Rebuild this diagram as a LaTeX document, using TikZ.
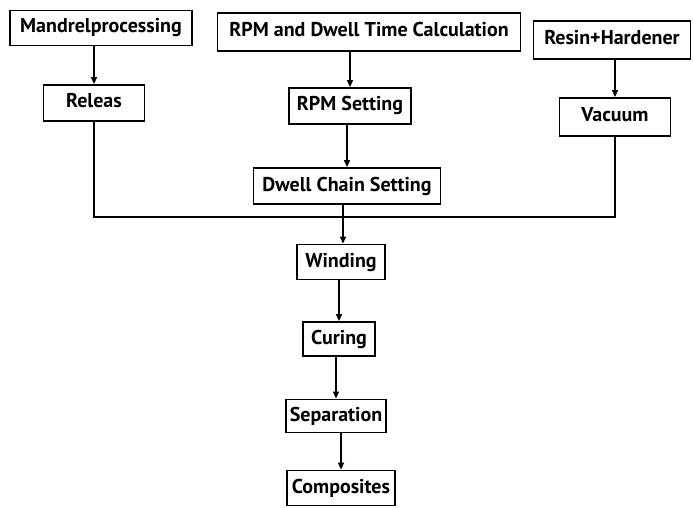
\documentclass[tikz,border=0pt]{standalone}
\usepackage{fontspec}
\setmainfont{PT Sans}
\usetikzlibrary{arrows.meta}
\begin{document}
\begin{tikzpicture}[x=1pt,y=-1pt,
  box/.style={draw,line width=1.8pt,inner sep=0pt,font=\bfseries\fontsize{20}{20}\selectfont,text height=14pt,text depth=4pt},
  conn/.style={line width=1.3pt},
  arr/.style={conn,-{Triangle[length=7pt,width=6pt]}}]
\useasboundingbox (0,0) rectangle (693,508);
\node[box,minimum width=182pt,minimum height=35pt] (man) at (101,28) {Mandrelprocessing};
\node[box,minimum width=303pt,minimum height=38pt] (calc) at (369,32) {RPM and Dwell Time Calculation};
\node[box,minimum width=157pt,minimum height=38pt] (res) at (612,40) {Resin+Hardener};
\node[box,minimum width=101pt,minimum height=36pt] (rel) at (94,103) {Releas};
\node[box,minimum width=122pt,minimum height=36pt] (rpm) at (350,106) {RPM Setting};
\node[box,minimum width=111pt,minimum height=38pt] (vac) at (615,117) {Vacuum};
\node[box,minimum width=187pt,minimum height=36pt] (dwell) at (347,186) {Dwell Chain Setting};
\node[box,minimum width=88pt,minimum height=35pt] (wind) at (341,262) {Winding};
\node[box,minimum width=72pt,minimum height=34pt] (cur) at (339,339) {Curing};
\node[box,minimum width=100pt,minimum height=33pt] (sep) at (336,416) {Separation};
\node[box,minimum width=108pt,minimum height=35pt] (comp) at (341,488) {Composites};
\coordinate (j) at (343,217);
\draw[arr] (man.south -| rel.north) -- (rel.north);
\draw[arr] (calc.south -| rpm.north) -- (rpm.north);
\draw[arr] (res.south -| vac.north) -- (vac.north);
\draw[arr] (rpm.south -| dwell.north) -- (dwell.north);
\draw[conn] (rel.south) |- (j) -| (vac.south);
\draw[arr] (j |- dwell.south) -- (j |- wind.north);
\draw[arr] (wind.south -| cur.north) -- (cur.north);
\draw[arr] (cur.south -| sep.north) -- (sep.north);
\draw[arr] (sep.south -| comp.north) -- (comp.north);
\end{tikzpicture}
\end{document}
